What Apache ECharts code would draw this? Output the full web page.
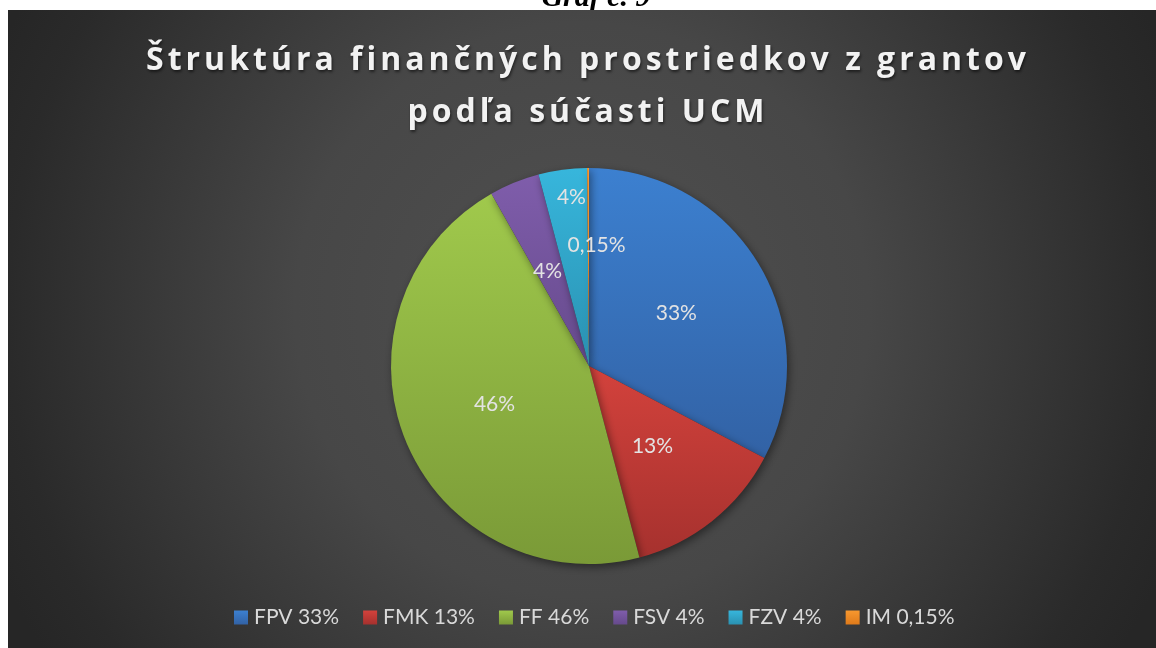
<!DOCTYPE html>
<html>
<head>
<meta charset="utf-8">
<script src="https://cdn.jsdelivr.net/npm/echarts@6/dist/echarts.min.js"></script>
<style>
html,body{margin:0;padding:0;background:#fff;}
#chart{width:1156px;height:648px;}
</style>
</head>
<body>
<div id="chart"></div>
<script>
// ---- data ----
const categories = ['FPV', 'FMK', 'FF', 'FSV', 'FZV', 'IM'];
const values = [32.7, 13.2, 45.9, 4.1, 3.95, 0.15];
const percentLabels = ['33%', '13%', '46%', '4%', '4%', '0,15%'];
const titleText = 'Štruktúra finančných prostriedkov z grantov\npodľa súčasti UCM';
const captionText = 'Graf č. 9';

// ---- styles ----
const sliceColors = [
  ['#3c80d0', '#3262a5'],
  ['#d3423c', '#a6312e'],
  ['#a0c94c', '#7a9a37'],
  ['#7f5dab', '#664a8c'],
  ['#37b6dc', '#2a91b1'],
  ['#f7982f', '#df7a1a']
];
const TITLE_FONT = '"Open Sans"';
const TITLE_SPACING = '4px';

// letter spacing for the title text only
(function () {
  const orig = CanvasRenderingContext2D.prototype.fillText;
  CanvasRenderingContext2D.prototype.fillText = function (t, x, y, m) {
    if ('letterSpacing' in this) {
      this.letterSpacing = (this.font.indexOf('TitleFace') >= 0) ? TITLE_SPACING : '0px';
    }
    return m === undefined ? orig.call(this, t, x, y) : orig.call(this, t, x, y, m);
  };
})();

function grad(c) {
  return new echarts.graphic.LinearGradient(0, 0, 0, 1, [
    { offset: 0, color: c[0] }, { offset: 1, color: c[1] }
  ]);
}

const labelShift = { 3: [-3, 0], 4: [-4, -68], 5: [8, -19] };

const chart = echarts.init(document.getElementById('chart'), null, { renderer: 'canvas' });
chart.setOption({
  backgroundColor: '#ffffff',
  animation: false,
  graphic: [
    {
      type: 'text', z: 0, x: 596, y: -2,
      style: {
        text: captionText, font: 'italic bold 30px "Liberation Serif"', fill: '#000',
        align: 'center', verticalAlign: 'middle'
      }
    },
    {
      type: 'rect', z: 1, shape: { x: 8, y: 10, width: 1148, height: 638 },
      style: {
        fill: new echarts.graphic.RadialGradient(0.5, 0.47, 1, [
          { offset: 0, color: '#505050' },
          { offset: 0.45, color: '#474747' },
          { offset: 0.9, color: '#2a2a2a' },
          { offset: 1, color: '#262626' }
        ])
      }
    }
  ],
  title: {
    text: titleText,
    left: 588,
    textAlign: 'center',
    top: 35,
    padding: 0,
    textStyle: {
      fontFamily: TITLE_FONT + ', TitleFace',
      fontWeight: 'bold',
      fontSize: 32,
      lineHeight: 52,
      color: '#f2f2f2',
      textShadowColor: 'rgba(0,0,0,0.55)',
      textShadowBlur: 3,
      textShadowOffsetX: 1,
      textShadowOffsetY: 2
    }
  },
  legend: {
    bottom: 15,
    left: 229,
    icon: 'rect',
    itemWidth: 14,
    itemHeight: 14,
    itemGap: 24,
    selectedMode: false,
    data: categories,
    formatter: function (name) {
      return name + ' ' + percentLabels[categories.indexOf(name)];
    },
    textStyle: { color: '#d9d9d9', fontFamily: 'Lato', fontSize: 21, padding: [0, 0, 0, 1] }
  },
  series: [{
    type: 'pie',
    center: [589, 366],
    radius: [0, 198],
    startAngle: 90,
    clockwise: true,
    avoidLabelOverlap: false,
    data: categories.map(function (c, i) {
      return { name: c, value: values[i], itemStyle: { color: grad(sliceColors[i]) } };
    }),
    itemStyle: {
      shadowColor: 'rgba(0,0,0,0.45)',
      shadowBlur: 8,
      shadowOffsetX: 2,
      shadowOffsetY: 3
    },
    label: {
      show: true,
      position: 'inside',
      color: '#e3e3e3',
      fontFamily: 'Lato',
      fontSize: 21,
      formatter: function (p) { return percentLabels[p.dataIndex]; }
    },
    labelLine: { show: false },
    labelLayout: function (p) {
      const s = labelShift[p.dataIndex];
      return s ? { dx: s[0], dy: s[1] } : {};
    },
    emphasis: { disabled: true }
  }]
});
</script>
</body>
</html>
